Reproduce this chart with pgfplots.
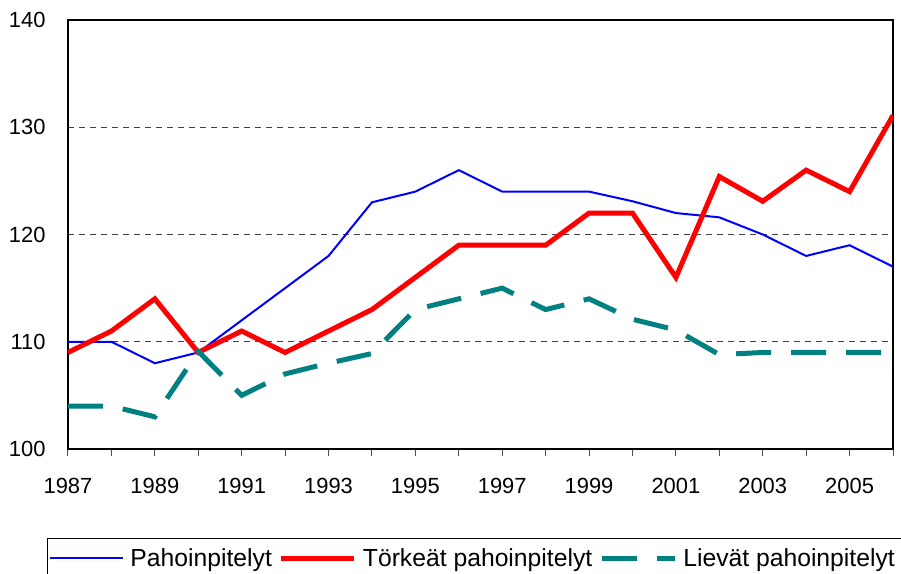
\documentclass[border=0pt]{standalone}
\usepackage{pgfplots}
\pgfplotsset{compat=1.18}
\usepackage{fontspec}
\setmainfont{Liberation Sans}
\definecolor{tealc}{RGB}{0,128,128}
\begin{document}
\begin{tikzpicture}
\begin{scope}
\clip (-68bp,-125bp) rectangle (833bp,449bp);
\begin{axis}[
  at={(0,0)}, anchor=south west,
  scale only axis, width=825bp, height=429bp,
  xmin=1987, xmax=2006, ymin=100, ymax=140,
  axis line style={line width=2bp, black},
  xtick={1987,1989,...,2005},
  minor xtick={1988,1990,...,2006},
  ytick={100,110,...,140},
  tick align=outside, tick pos=left,
  major tick length=7bp, minor tick length=7bp,
  every tick/.style={black!70, line width=1bp},
  ytick style={draw=none},
  ymajorgrids,
  grid style={black!75, line width=0.8bp, dash pattern=on 6bp off 5bp},
  /pgf/number format/assume math mode=true,
  /pgf/number format/1000 sep={},
  tick label style={font=\fontsize{22}{26}\selectfont},
  xticklabel style={yshift=-19bp},
  yticklabel style={xshift=-12bp},
  legend columns=3,
  legend image code/.code={\draw[#1] (0bp,0bp) -- (73bp,0bp);},
  legend style={at={(axis description cs:-0.0255,-0.2075)}, anchor=north west,
    draw=black, line width=1bp, inner xsep=2bp, inner ysep=5bp,
    nodes={inner xsep=6bp, inner ysep=5bp, font=\fontsize{24.8}{29}\selectfont},
    font=\fontsize{24.8}{29}\selectfont,
    /tikz/every even column/.append style={column sep=1bp}},
]
\addplot[blue, line width=2bp] coordinates {
(1987,110)(1988,110)(1989,108)(1990,109)(1991,112)(1992,115)(1993,118)(1994,123)(1995,124)(1996,126)(1997,124)(1998,124)(1999,124)(2000,123.1)(2001,122)(2002,121.6)(2003,120)(2004,118)(2005,119)(2006,117)};
\addlegendentry{Pahoinpitelyt}
\addplot[red, line width=5bp] coordinates {
(1987,109)(1988,111)(1989,114)(1990,109)(1991,111)(1992,109)(1993,111)(1994,113)(1995,116)(1996,119)(1997,119)(1998,119)(1999,122)(2000,122)(2001,116)(2002,125.4)(2003,123.1)(2004,126)(2005,124)(2006,131.1)};
\addlegendentry{Törkeät pahoinpitelyt}
\addplot[tealc, line width=5bp, dash pattern=on 35bp off 20bp] coordinates {
(1987,104)(1988,104)(1989,103)(1990,109.1)(1991,105)(1992,107)(1993,108)(1994,108.9)(1995,113)(1996,114)(1997,115)(1998,113)(1999,114)(2000,112.1)(2001,111.1)(2002,108.8)(2003,109)(2004,109)(2005,109)(2006,109)};
\addlegendentry{Lievät pahoinpitelyt}
\end{axis}
\end{scope}
\pgfresetboundingbox
\useasboundingbox (-68bp,-125bp) rectangle (833bp,449bp);
\end{tikzpicture}
\end{document}
